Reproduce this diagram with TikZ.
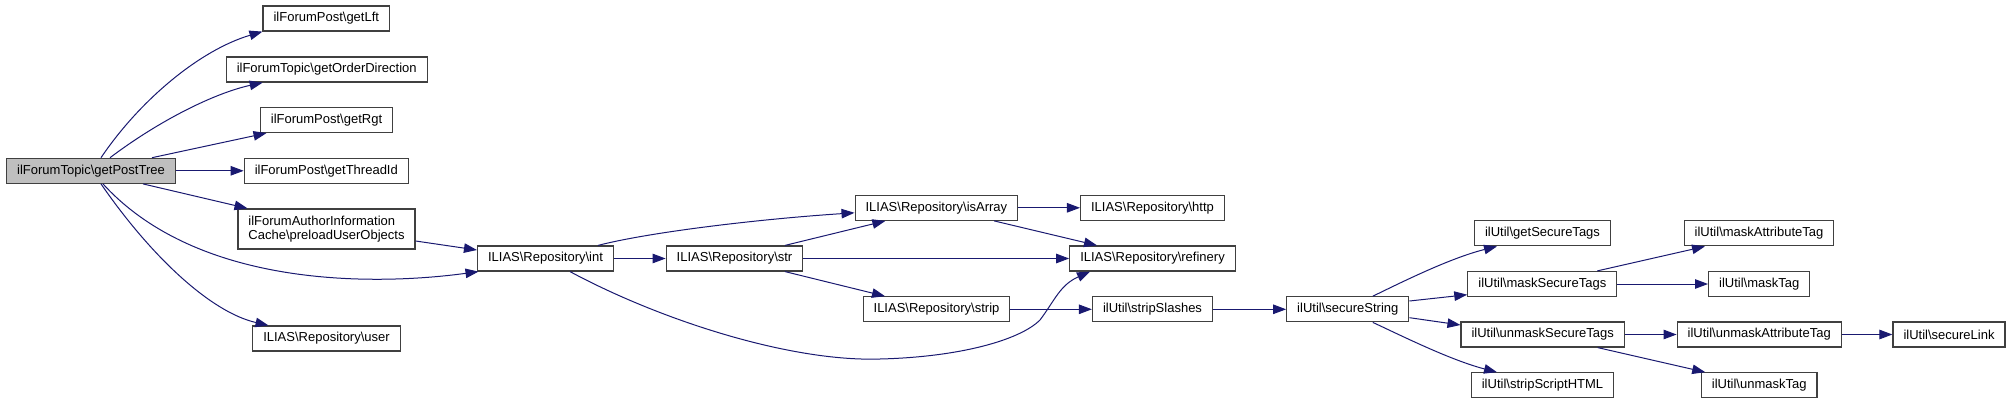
\documentclass[tikz,border=0pt]{standalone}
\usepackage{fontspec}
\setmainfont{Liberation Sans}
\usetikzlibrary{arrows.meta}
\newcommand\bsl{\textbackslash}
\definecolor{edgeblue}{HTML}{191970}
\begin{document}
\begin{tikzpicture}[x=1pt,y=-1pt,>={Triangle[length=13pt,width=9.5pt]},font=\fontsize{13}{14.7}\selectfont,
	box/.style={draw=black!75,line width=1.2pt,fill=white,minimum height=25pt,inner xsep=10.5pt,inner ysep=2pt},
	edge/.style={->,color=edgeblue,line width=1pt}]
	\useasboundingbox (0,0) rectangle (2012,404);
	\node[box,fill=black!25] (gpt) at (91,170.8) {ilForumTopic\bsl getPostTree};
	\foreach \n/\x/\y/\t in {lft/326.3/18.5/ilForumPost\bsl getLft,ord/326.7/69.5/ilForumTopic\bsl getOrderDirection,
		rgt/326.5/120/ilForumPost\bsl getRgt,tid/326.3/170.8/ilForumPost\bsl getThreadId,usr/326.5/338.5/ILIAS\bsl Repository\bsl user,
		int/545.5/258.5/ILIAS\bsl Repository\bsl int,str/734.5/258.5/ILIAS\bsl Repository\bsl str,
		isa/936.4/207.8/ILIAS\bsl Repository\bsl isArray,stp/936.5/309.3/ILIAS\bsl Repository\bsl strip,
		htp/1152.5/207.8/ILIAS\bsl Repository\bsl http,ref/1152.5/258.5/ILIAS\bsl Repository\bsl refinery,
		ssl/1152.5/309.3/ilUtil\bsl stripSlashes,sst/1347.8/309.3/ilUtil\bsl secureString,
		gst/1542.5/233.3/ilUtil\bsl getSecureTags,mst/1542.3/284/ilUtil\bsl maskSecureTags,
		ums/1542.7/334.5/ilUtil\bsl unmaskSecureTags,ssh/1542.5/385.3/ilUtil\bsl stripScriptHTML,
		mat/1759/233.3/ilUtil\bsl maskAttributeTag,mtg/1759.2/284/ilUtil\bsl maskTag,
		uat/1759.2/334.5/ilUtil\bsl unmaskAttributeTag,utg/1759.2/385.3/ilUtil\bsl unmaskTag,
		slk/1949/334.5/ilUtil\bsl secureLink}
		\node[box] (\n) at (\x,\y) {\t};
	\node[box,align=left,minimum height=40pt] (pre) at (326.5,229) {ilForumAuthorInformation\\Cache\bsl preloadUserObjects};
	\foreach \a/\b in {gpt/tid,int/str,str/ref,isa/htp,stp/ssl,ssl/sst,mst/mtg,ums/uat,uat/slk}
		\draw[edge] (\a.east)--(\b.west);
	\draw[edge] ([xshift=10]gpt.north) .. controls (140,100) and (200,50) .. (lft.south west);
	\draw[edge] ([xshift=19]gpt.north) .. controls (160,120) and (215,93) .. ([xshift=-64]ord.south);
	\draw[edge] ([xshift=61]gpt.north)--([xshift=-60]rgt.south);
	\draw[edge] ([xshift=52]gpt.south)--([xshift=-79]pre.north);
	\draw[edge] ([xshift=12]gpt.south) .. controls (200,290) and (380,285) .. ([xshift=-67]int.south);
	\draw[edge] ([xshift=10]gpt.south) .. controls (150,255) and (210,312) .. ([xshift=-58]usr.north);
	\draw[edge] ([yshift=-12]pre.east)--([yshift=8.5]int.west);
	\draw[edge] ([xshift=52.5]int.north) .. controls (650,232) and (760,219) .. ([yshift=-5]isa.west);
	\draw[edge] ([xshift=24.5]int.south) .. controls (660,320) and (790,362) .. (880,359) .. controls (960,357) and (1020,340) .. (1040,320) .. controls (1055,300) and (1060,285) .. ([xshift=-62.5]ref.south);
	\draw[edge] ([xshift=50.5]str.north)--([xshift=-51]isa.south);
	\draw[edge] ([xshift=50.5]str.south)--([xshift=-51.5]stp.north);
	\draw[edge] ([xshift=57.7]isa.south)--([xshift=-55.5]ref.north);
	\draw[edge] ([xshift=25]sst.north) .. controls (1400,283) and (1450,258) .. ([xshift=-45.5]gst.south);
	\draw[edge] ([yshift=8.3]sst.east)--([yshift=-10.7]mst.west);
	\draw[edge] ([yshift=-8.4]sst.east)--([yshift=9.5]ums.west);
	\draw[edge] ([xshift=25]sst.south) .. controls (1400,335) and (1450,360) .. ([xshift=-45.5]ssh.north);
	\draw[edge] ([xshift=55]mst.north)--([xshift=-54]mat.south);
	\draw[edge] ([xshift=55]ums.south)--([xshift=-54]utg.north);
\end{tikzpicture}
\end{document}
